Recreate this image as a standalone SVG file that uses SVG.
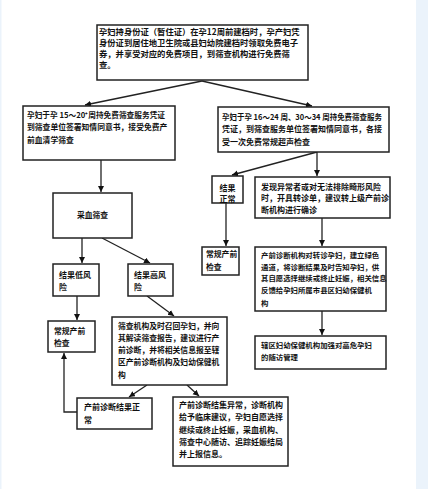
<svg xmlns="http://www.w3.org/2000/svg" width="428" height="489" viewBox="0 0 428 489">
<style>
.box{fill:#fff;stroke:#222;stroke-width:1.5}
.t{font-family:"Noto Sans CJK SC","Liberation Serif",serif;font-weight:bold;font-size:8px;fill:#111}
.s74{font-size:7.4px}
.s78{font-size:7.8px}
.s83{font-size:8.3px}
.c{text-anchor:middle}
.ln{fill:none;stroke:#222;stroke-width:1.3}
</style>
<defs>
<marker id="ah" markerUnits="userSpaceOnUse" markerWidth="7" markerHeight="7" refX="6" refY="3" orient="auto">
<path d="M0,0 L6,3 L0,6 z" fill="#111"/>
</marker>
</defs>
<rect x="0" y="0" width="428" height="489" fill="#fff"/>
<rect x="416" y="0" width="12" height="489" fill="#ebf3fb"/>
<rect x="0" y="0" width="1.5" height="489" fill="#ebf3fb"/>

<g id="connectors">
<line class="ln" x1="202" y1="81" x2="85" y2="105" marker-end="url(#ah)"/>
<line class="ln" x1="202" y1="81" x2="312" y2="106" marker-end="url(#ah)"/>
<line class="ln" x1="101" y1="160" x2="101" y2="192" marker-end="url(#ah)"/>
<line class="ln" x1="317" y1="152" x2="232" y2="175" marker-end="url(#ah)"/>
<line class="ln" x1="317" y1="152" x2="317" y2="176" marker-end="url(#ah)"/>
<line class="ln" x1="226" y1="203" x2="226" y2="246" marker-end="url(#ah)"/>
<line class="ln" x1="322" y1="218" x2="322" y2="246" marker-end="url(#ah)"/>
<line class="ln" x1="322" y1="311" x2="322" y2="335" marker-end="url(#ah)"/>
<line class="ln" x1="82" y1="238" x2="82" y2="263" marker-end="url(#ah)"/>
<line class="ln" x1="102" y1="238" x2="150" y2="263" marker-end="url(#ah)"/>
<line class="ln" x1="77" y1="296" x2="77" y2="320" marker-end="url(#ah)"/>
<line class="ln" x1="147" y1="296" x2="174" y2="316" marker-end="url(#ah)"/>
<line class="ln" x1="147" y1="385" x2="129" y2="397" marker-end="url(#ah)"/>
<line class="ln" x1="187" y1="385" x2="199" y2="396" marker-end="url(#ah)"/>
<polyline class="ln" points="77,412 64,412 64,353" marker-end="url(#ah)"/>
</g>

<g id="n-top">
<rect class="box" x="97" y="25" width="211" height="55"/>
<text class="t s83" x="99" y="35">孕妇持身份证（暂住证）在孕12周前建档时，孕产妇凭</text>
<text class="t s83" x="99" y="46">身份证到居住地卫生院或县妇幼院建档时领取免费电子</text>
<text class="t s83" x="99" y="57">券，并享受对应的免费项目，到筛查机构进行免费筛</text>
<text class="t s83" x="99" y="68">查。</text>
</g>

<g id="n-serum">
<rect class="box" x="23" y="106" width="152" height="54"/>
<text class="t s78" x="27" y="118" textLength="138" lengthAdjust="spacingAndGlyphs">孕妇于孕 15～20⁺周持免费筛查服务凭证</text>
<text class="t s78" x="27" y="130">到筛查单位签署知情同意书，接受免费产</text>
<text class="t s78" x="27" y="143">前血清学筛查</text>
</g>

<g id="n-ultra">
<rect class="box" x="218" y="107" width="171" height="45"/>
<text class="t" x="222" y="120" textLength="160" lengthAdjust="spacingAndGlyphs">孕妇于孕 16～24 周、30～34 周持免费筛查服务</text>
<text class="t" x="222" y="132">凭证，到筛查服务单位签署知情同意书，各接</text>
<text class="t" x="222" y="145">受一次免费常规超声检查</text>
</g>

<g id="n-normal">
<rect class="box" x="212" y="176" width="31" height="27"/>
<text class="t c" x="227.5" y="191">结果</text>
<text class="t c" x="227.5" y="202">正常</text>
</g>

<g id="n-abnormal">
<rect class="box" x="255" y="177" width="135" height="41"/>
<text class="t" x="261" y="190">发现异常者或对无法排除畸形风险</text>
<text class="t" x="261" y="201">时，开具转诊单，建议转上级产前诊</text>
<text class="t" x="261" y="213">断机构进行确诊</text>
</g>

<g id="n-routine-r">
<rect class="box" x="202" y="247" width="37" height="28"/>
<text class="t s78" x="206" y="257">常规产前</text>
<text class="t s78" x="206" y="270">检查</text>
</g>

<g id="n-diag">
<rect class="box" x="255" y="247" width="131" height="64"/>
<text class="t s74" x="261" y="258">产前诊断机构对转诊孕妇，建立绿色</text>
<text class="t s74" x="261" y="270">通道，将诊断结果及时告知孕妇，供</text>
<text class="t s74" x="261" y="281">其自愿选择继续或终止妊娠，相关信息</text>
<text class="t s74" x="261" y="293">反馈给孕妇所属市县区妇幼保健机</text>
<text class="t s74" x="261" y="306">构</text>
</g>

<g id="n-district">
<rect class="box" x="255" y="336" width="131" height="33"/>
<text class="t s74" x="261" y="348">辖区妇幼保健机构加强对高危孕妇</text>
<text class="t s74" x="261" y="360">的随访管理</text>
</g>

<g id="n-blood">
<rect class="box" x="53" y="193" width="79" height="45"/>
<text class="t s78 c" x="92.5" y="218">采血筛查</text>
</g>

<g id="n-low">
<rect class="box" x="53" y="264" width="46" height="32"/>
<text class="t" x="59" y="278">结果低风</text>
<text class="t" x="59" y="290">险</text>
</g>

<g id="n-high">
<rect class="box" x="128" y="264" width="45" height="32"/>
<text class="t" x="134" y="278">结果高风</text>
<text class="t" x="134" y="290">险</text>
</g>

<g id="n-routine-l">
<rect class="box" x="48" y="321" width="47" height="31"/>
<text class="t s78" x="54" y="334">常规产前</text>
<text class="t s78" x="54" y="346">检查</text>
</g>

<g id="n-recall">
<rect class="box" x="112" y="317" width="115" height="68"/>
<text class="t s78" x="118" y="329">筛查机构及时召回孕妇，并向</text>
<text class="t s78" x="118" y="341">其解读筛查报告，建议进行产</text>
<text class="t s78" x="118" y="353">前诊断，并将相关信息报至辖</text>
<text class="t s78" x="118" y="365">区产前诊断机构及妇幼保健机</text>
<text class="t s78" x="118" y="378">构</text>
</g>

<g id="n-dx-normal">
<rect class="box" x="77" y="398" width="75" height="31"/>
<text class="t" x="84" y="410">产前诊断结果正</text>
<text class="t" x="84" y="423">常</text>
</g>

<g id="n-dx-abnormal">
<rect class="box" x="173" y="397" width="115" height="69"/>
<text class="t" x="179" y="408">产前诊断结集异常，诊断机构</text>
<text class="t" x="179" y="420">给予临床建议，孕妇自愿选择</text>
<text class="t" x="179" y="433">继续或终止妊娠，采血机构、</text>
<text class="t" x="179" y="445">筛查中心随访、追踪妊娠结局</text>
<text class="t" x="179" y="457">并上报信息。</text>
</g>
</svg>
